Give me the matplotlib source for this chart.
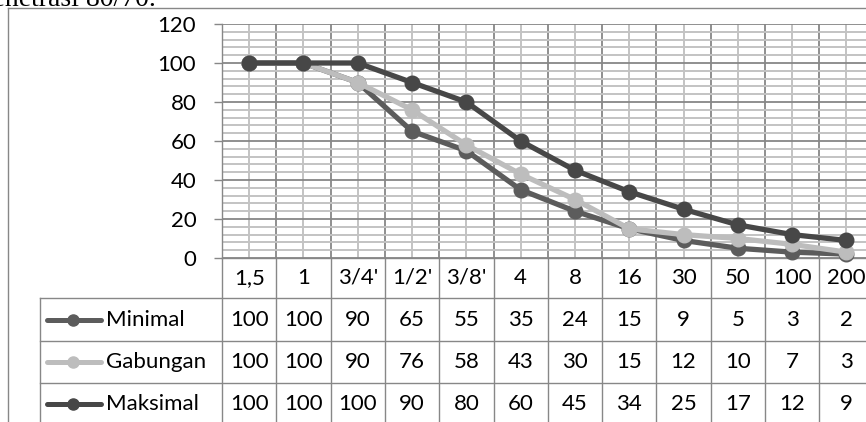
"""Grafik gradasi agregat dengan tabel data"""

import matplotlib
matplotlib.use("Agg")
import matplotlib.pyplot as plt
import matplotlib.transforms as mtransforms
from matplotlib.lines import Line2D
import numpy as np

# data
saringan = ["1,5", "1", "3/4'", "1/2'", "3/8'", "4", "8", "16", "30", "50", "100", "200"]
minimal = [100, 100, 90, 65, 55, 35, 24, 15, 9, 5, 3, 2]
gabungan = [100, 100, 90, 76, 58, 43, 30, 15, 12, 10, 7, 3]
maksimal = [100, 100, 100, 90, 80, 60, 45, 34, 25, 17, 12, 9]
nama_seri = ["Minimal", "Gabungan", "Maksimal"]
warna = ["#5c5c5c", "#bdbdbd", "#474747"]

W, H = 866, 422
GRID_DARK = "#878787"
GRID_LIGHT = "#c3c3c3"
FS = 16
plt.rcParams["font.family"] = ["Lato", "DejaVu Sans"]


def fy(py):
    return 1 - py / H


def fx(px):
    return px / W


def main():
    fig = plt.figure(figsize=(W / 100, H / 100), dpi=100)

    # area plot (dalam piksel)
    x0, y0, y1 = 222, 24, 258
    colw = 54.3
    x1 = x0 + colw * len(saringan)
    ax = fig.add_axes([fx(x0), fy(y1), (x1 - x0) / W, (y1 - y0) / H])
    ax.set_xlim(-0.5, len(saringan) - 0.5)
    ax.set_ylim(0, 120)

    ax.set_yticks(np.arange(0, 121, 20))
    ax.set_yticks(np.arange(0, 121, 4), minor=True)
    ax.set_xticks(np.arange(-0.5, len(saringan), 1))
    ax.set_xticks(np.arange(0, len(saringan), 1), minor=True)
    ax.set_xticklabels([])
    ax.tick_params(axis="x", which="both", length=0)
    ax.tick_params(axis="y", which="major", length=5.5, width=1, color=GRID_DARK,
                   labelsize=FS, pad=13)
    ax.tick_params(axis="y", which="minor", length=0)
    ax.grid(which="minor", color=GRID_LIGHT, lw=1.4, zorder=0)
    ax.grid(which="major", color=GRID_DARK, lw=1.3, zorder=0)
    ax.set_axisbelow(True)
    for s in ["top", "right"]:
        ax.spines[s].set_visible(False)
    for s in ["left", "bottom"]:
        ax.spines[s].set_color(GRID_DARK)
        ax.spines[s].set_linewidth(1.0)

    x = np.arange(len(saringan))
    for nama, data, c in zip(nama_seri, [minimal, gabungan, maksimal], warna):
        ax.plot(x, data, color=c, lw=3.8, marker="o", markersize=10.5,
                label=nama, clip_on=False, zorder=3)

    # tabel data di bawah grafik
    trans = mtransforms.blended_transform_factory(ax.transData, fig.transFigure)
    baris = [258, 298, 341, 383, 425]
    for b in np.arange(-0.5, len(saringan), 1):
        ax.add_line(Line2D([b, b], [fy(258), fy(425)], transform=trans,
                           color=GRID_DARK, lw=1.0, clip_on=False))
    for py in baris[1:4]:
        fig.add_artist(Line2D([fx(40), 1], [fy(py), fy(py)], color=GRID_DARK, lw=1.0))
    fig.add_artist(Line2D([fx(40), fx(40)], [fy(298), 0], color=GRID_DARK, lw=1.0))

    for i, lab in enumerate(saringan):
        ax.text(i, fy(278), lab, transform=trans, ha="center", va="center",
                fontsize=FS, clip_on=False)
    for r, data in enumerate([minimal, gabungan, maksimal]):
        yc = fy((baris[r + 1] + baris[r + 2]) / 2)
        for i, v in enumerate(data):
            ax.text(i, yc, str(v), transform=trans, ha="center", va="center",
                    fontsize=FS, clip_on=False)
        # kunci legenda
        fig.add_artist(Line2D([fx(47), fx(101)], [yc, yc], color=warna[r], lw=3.6,
                              solid_capstyle="round"))
        fig.add_artist(Line2D([fx(73)], [yc], color=warna[r], marker="o",
                              markersize=8, lw=0))
        fig.text(fx(106), yc, nama_seri[r], ha="left", va="center", fontsize=FS)

    # bingkai area chart
    fig.add_artist(Line2D([fx(8), fx(8)], [fy(8), 0], color=GRID_DARK, lw=1.0))
    fig.add_artist(Line2D([fx(8), 1], [fy(8), fy(8)], color=GRID_DARK, lw=1.0))

    # potongan teks dokumen di atas grafik (terpotong seperti aslinya)
    fig.text(fx(156), fy(6), "Penetrasi 80/70.", ha="right", va="baseline",
             fontsize=20, family=["Liberation Serif"])

    fig.savefig("out.png", dpi=100)


if __name__ == "__main__":
    main()
